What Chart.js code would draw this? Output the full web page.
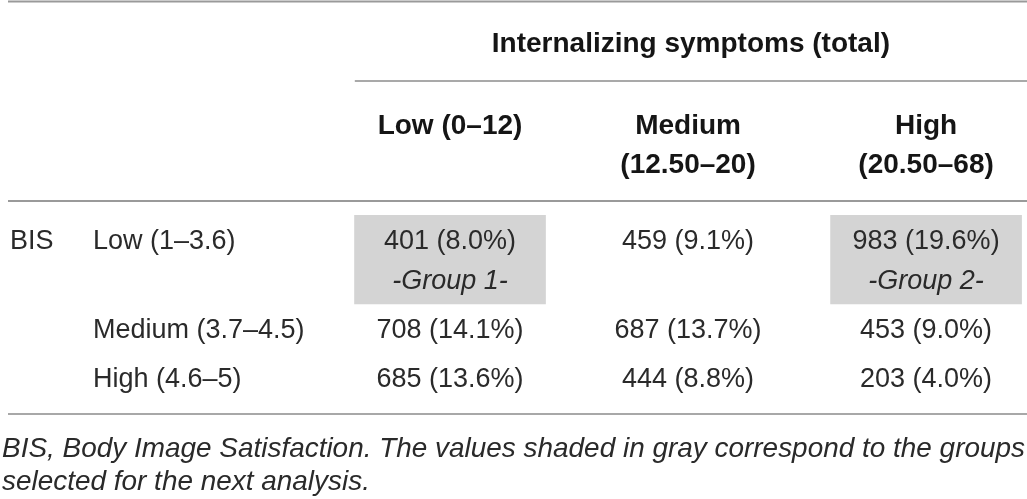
<!DOCTYPE html>
<html>
<head>
<meta charset="utf-8">
<script src="https://cdn.jsdelivr.net/npm/chart.js@4"></script>
<style>
  html, body { margin: 0; padding: 0; background: #fff; }
  canvas { display: block; }
</style>
</head>
<body>
<canvas id="tbl" width="1027" height="499"></canvas>
<script>
    // table data
    const spanTitle = "Internalizing symptoms (total)";
    const colHeads = [["Low (0–12)"], ["Medium", "(12.50–20)"], ["High", "(20.50–68)"]];
    const rowGroup = "BIS";
    const rowLabels = ["Low (1–3.6)", "Medium (3.7–4.5)", "High (4.6–5)"];
    const counts = [
        [401, 459, 983],
        [708, 687, 453],
        [685, 444, 203]
    ];
    const percents = [
        [8.0, 9.1, 19.6],
        [14.1, 13.7, 9.0],
        [13.6, 8.8, 4.0]
    ];
    const groupRows = [0, 0];
    const groupCols = [0, 2];
    const groupNames = ["Group 1", "Group 2"];
    const footnote = [
        "BIS, Body Image Satisfaction. The values shaded in gray correspond to the groups",
        "selected for the next analysis."
    ];

    // layout (in row "line" units for y, column units for x)
    const linePad = 0.1125;
    const baseOff = 0.85;
    const rowLines = rowLabels.map((_, r) => groupRows.includes(r) ? 2 : 1);
    const rowTop = [];
    let acc = 0;
    rowLines.forEach(n => { rowTop.push(acc); acc += n + 2 * linePad; });
    const tableDepth = acc;

    const headFont = 'bold 28px "Liberation Sans", Arial, sans-serif';
    const bodyFont = '27px "Liberation Sans", Arial, sans-serif';
    const italFont = 'italic 27px "Liberation Sans", Arial, sans-serif';
    const noteFont = 'italic 28px "Liberation Sans", Arial, sans-serif';

    // shaded cells as floating bars
    const shaded = groupRows.map((r, i) => ({
        x: groupCols[i],
        y: [rowTop[r], rowTop[r] + rowLines[r] + 2 * linePad]
    }));

    let hline = (ctx, x1, x2, y, w, col) => {
        ctx.save();
        ctx.strokeStyle = col;
        ctx.lineWidth = w;
        ctx.beginPath();
        ctx.moveTo(x1, y);
        ctx.lineTo(x2, y);
        ctx.stroke();
        ctx.restore();
    };

    const tablePlugin = {
        id: "tableText",
        afterDatasetsDraw(chart) {
            const ctx = chart.ctx;
            const xs = chart.scales.x, ys = chart.scales.y;
            const W = chart.width;
            const bottom = ys.getPixelForValue(tableDepth);

            // rules
            hline(ctx, 8, W, 1.5, 2, "#9a9a9a");
            const spanLeft = xs.getPixelForValue(-0.4);
            hline(ctx, spanLeft, W, 81, 1.5, "#8c8c8c");
            hline(ctx, 8, W, 201, 2, "#9a9a9a");
            hline(ctx, 8, W, bottom + 12, 2, "#a8a8a8");

            ctx.save();
            ctx.textBaseline = "alphabetic";

            // header
            ctx.fillStyle = "#151515";
            ctx.font = headFont;
            ctx.textAlign = "center";
            ctx.fillText(spanTitle, (spanLeft + W) / 2, 52);
            colHeads.forEach((lines, c) => {
                lines.forEach((t, k) => {
                    ctx.fillText(t, xs.getPixelForValue(c), 134 + k * 39);
                });
            });

            // body
            ctx.fillStyle = "#2a2a2a";
            ctx.font = bodyFont;
            ctx.textAlign = "left";
            ctx.fillText(rowGroup, 10, ys.getPixelForValue(rowTop[0] + baseOff));
            rowLabels.forEach((t, r) => {
                ctx.fillText(t, 93, ys.getPixelForValue(rowTop[r] + baseOff));
            });
            ctx.textAlign = "center";
            counts.forEach((row, r) => {
                row.forEach((n, c) => {
                    let txt = n + " (" + percents[r][c].toFixed(1) + "%)";
                    ctx.fillText(txt, xs.getPixelForValue(c), ys.getPixelForValue(rowTop[r] + baseOff));
                });
            });
            ctx.font = italFont;
            groupNames.forEach((g, i) => {
                let r = groupRows[i];
                ctx.fillText("-" + g + "-", xs.getPixelForValue(groupCols[i]), ys.getPixelForValue(rowTop[r] + baseOff + 1));
            });

            // footnote, fitted to the table width
            ctx.font = noteFont;
            ctx.textAlign = "left";
            const wide = ctx.measureText(footnote[0]).width;
            const sx = (W - 4) / wide;
            footnote.forEach((t, k) => {
                ctx.save();
                ctx.translate(2, bottom + 55 + k * 33);
                ctx.scale(sx, 1);
                ctx.fillText(t, 0, 0);
                ctx.restore();
            });
            ctx.restore();
        }
    };

    const chart = new Chart(document.getElementById("tbl"), {
        type: "bar",
        data: {
            datasets: [{
                label: "Selected groups",
                data: shaded,
                backgroundColor: "#d4d4d4",
                borderWidth: 0,
                barThickness: 191
            }]
        },
        options: {
            responsive: false,
            animation: false,
            layout: { padding: { left: 331, right: 0, top: 215, bottom: 499 - 215 - tableDepth * 40 } },
            scales: {
                x: { type: "linear", min: -0.5, max: 2.424, offset: false, display: false },
                y: { type: "linear", min: 0, max: tableDepth, reverse: true, display: false }
            },
            plugins: {
                legend: { display: false },
                tooltip: { enabled: false }
            }
        },
        plugins: [tablePlugin]
    });
</script>
</body>
</html>
